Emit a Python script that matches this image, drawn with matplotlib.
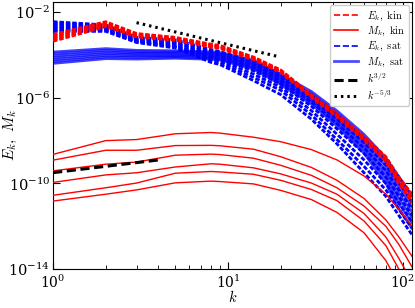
import numpy as np
import matplotlib
matplotlib.use("Agg")
import matplotlib.pyplot as plt
from matplotlib.lines import Line2D
from matplotlib.ticker import NullLocator

plt.rcParams['mathtext.fontset'] = 'cm'
plt.rcParams['font.family'] = ['DejaVu Serif']

# wavenumbers at which values were read
k_vals = [1, 2, 3, 5, 8, 9, 14, 20, 30, 42, 60, 80, 95, 113]

# log10 of E_k (kinetic runs), red dashed
E_kin_log = [
    [-3.05, -2.45, -3.00, -3.18, -3.50, -3.56, -4.10, -4.70, -5.85, -6.75, -7.80, -8.75, -9.70, -10.50],
    [-3.13, -2.50, -3.04, -3.22, -3.54, -3.60, -4.13, -4.73, -5.88, -6.78, -7.84, -8.80, -9.78, -10.60],
    [-3.20, -2.55, -3.07, -3.25, -3.57, -3.63, -4.16, -4.76, -5.91, -6.81, -7.88, -8.86, -9.85, -10.70],
    [-3.28, -2.61, -3.11, -3.28, -3.60, -3.66, -4.19, -4.79, -5.94, -6.85, -7.92, -8.92, -9.93, -10.80],
    [-3.36, -2.68, -3.16, -3.32, -3.64, -3.70, -4.22, -4.82, -5.98, -6.89, -7.97, -8.98, -10.00, -10.90],
]

# log10 of M_k (kinetic runs), red solid
M_kin_log = [
    [-8.64, -8.00, -7.95, -7.68, -7.62, -7.65, -7.84, -8.05, -8.42, -8.90, -9.65, -10.50, -11.20, -12.00],
    [-8.91, -8.45, -8.45, -8.23, -8.22, -8.24, -8.40, -8.75, -9.25, -9.85, -10.70, -11.70, -12.50, -13.40],
    [-9.41, -9.10, -9.00, -8.68, -8.63, -8.65, -8.82, -9.15, -9.62, -10.20, -11.05, -12.00, -12.85, -13.90],
    [-9.95, -9.60, -9.50, -9.23, -9.08, -9.10, -9.27, -9.55, -9.98, -10.50, -11.40, -12.50, -13.50, -14.60],
    [-10.55, -10.20, -9.98, -9.52, -9.44, -9.46, -9.57, -9.85, -10.28, -10.80, -11.75, -12.90, -14.00, -15.20],
    [-10.82, -10.50, -10.30, -9.97, -9.89, -9.91, -10.02, -10.32, -10.75, -11.35, -12.30, -13.60, -14.70, -15.90],
]

# log10 of E_k (saturated runs), blue dashed
E_sat_log = [
    [-2.45, -2.60, -3.18, -3.30, -3.75, -3.85, -4.30, -4.90, -5.90, -6.80, -7.90, -8.90, -9.70, -10.60],
    [-2.52, -2.65, -3.22, -3.38, -3.85, -3.95, -4.45, -5.05, -6.05, -7.00, -8.10, -9.15, -10.00, -10.90],
    [-2.60, -2.70, -3.26, -3.45, -3.95, -4.05, -4.60, -5.20, -6.20, -7.20, -8.35, -9.40, -10.30, -11.20],
    [-2.68, -2.75, -3.30, -3.52, -4.05, -4.15, -4.75, -5.35, -6.40, -7.45, -8.60, -9.70, -10.60, -11.50],
    [-2.75, -2.80, -3.34, -3.58, -4.15, -4.25, -4.90, -5.50, -6.60, -7.70, -8.90, -10.00, -10.90, -11.80],
    [-2.83, -2.85, -3.38, -3.63, -4.25, -4.35, -5.05, -5.65, -6.80, -7.95, -9.20, -10.30, -11.20, -12.10],
    [-2.90, -2.90, -3.42, -3.68, -4.35, -4.45, -5.20, -5.85, -7.00, -8.15, -9.50, -10.60, -11.50, -12.40],
]

# log10 of M_k (saturated runs), blue solid
M_sat_log = [
    [-3.86, -3.70, -3.78, -3.80, -3.85, -3.88, -4.25, -4.90, -5.70, -6.60, -7.70, -8.80, -9.70, -10.60],
    [-3.95, -3.78, -3.85, -3.86, -3.91, -3.94, -4.32, -4.98, -5.80, -6.72, -7.85, -9.00, -9.95, -10.85],
    [-4.04, -3.86, -3.92, -3.92, -3.97, -4.00, -4.39, -5.06, -5.90, -6.84, -8.00, -9.20, -10.20, -11.10],
    [-4.13, -3.94, -3.98, -3.98, -4.03, -4.06, -4.46, -5.14, -6.00, -6.96, -8.15, -9.40, -10.45, -11.35],
    [-4.22, -4.02, -4.05, -4.04, -4.09, -4.12, -4.53, -5.22, -6.10, -7.08, -8.30, -9.60, -10.70, -11.60],
    [-4.31, -4.10, -4.12, -4.10, -4.15, -4.18, -4.60, -5.30, -6.20, -7.20, -8.45, -9.80, -10.95, -11.85],
    [-4.40, -4.18, -4.20, -4.16, -4.21, -4.24, -4.67, -5.38, -6.30, -7.32, -8.60, -10.00, -11.20, -12.10],
]

# reference power-law guide lines (endpoints)
ref32_k = [1, 4]
ref32_val = [3.2e-10, 1.25e-9]
ref53_k = [3, 19]
ref53_val = [3.2e-3, 8.7e-5]

fig = plt.figure(figsize=(4.15, 3.08), dpi=100)
ax = fig.add_axes([0.128, 0.126, 0.865, 0.868])

k = np.array(k_vals, dtype=float)
dash_plot = (0, (1.6, 0.7))

for row in M_sat_log:
    ax.plot(k, 10.0 ** np.array(row), color='b', lw=1.8, alpha=0.75, zorder=2)
for row in E_sat_log:
    ax.plot(k, 10.0 ** np.array(row), color='b', lw=2.0, ls=dash_plot, zorder=3)
for row in M_kin_log:
    ax.plot(k, 10.0 ** np.array(row), color='r', lw=1.0, zorder=4)
for row in E_kin_log:
    ax.plot(k, 10.0 ** np.array(row), color='r', lw=2.0, ls=dash_plot, zorder=5)

ax.plot(ref32_k, ref32_val, color='k', lw=2.2, ls=(0, (3, 1.5)), zorder=6)
ax.plot(ref53_k, ref53_val, color='k', lw=2.2, ls=(0, (0.8, 1.3)), zorder=6)

ax.set_xscale('log')
ax.set_yscale('log')
ax.set_xlim(1, 113)
ax.set_ylim(1e-14, 3e-2)
ax.set_xticks([1, 10, 100])
ax.set_yticks([1e-14, 1e-10, 1e-6, 1e-2])
ax.yaxis.set_minor_locator(NullLocator())
ax.tick_params(which='both', direction='in', top=True, right=True, labelsize=10.5)
ax.tick_params(which='major', length=5, pad=2)
ax.tick_params(which='minor', length=3)
ax.tick_params(axis='x', which='major', pad=3, labelsize=10)

ax.set_xlabel(r'$k$', fontsize=10.5)
ax.xaxis.set_label_coords(0.5, -0.075)
ax.set_ylabel(r'$E_k,\ M_k$', fontsize=11)
ax.yaxis.set_label_coords(-0.095, 0.5)

handles = [
    Line2D([], [], color='r', lw=1.2, ls='--'),
    Line2D([], [], color='r', lw=1.2),
    Line2D([], [], color='b', lw=1.2, ls='--'),
    Line2D([], [], color='b', lw=2.0, alpha=0.7),
    Line2D([], [], color='k', lw=2.2, ls=(0, (3, 1.5))),
    Line2D([], [], color='k', lw=2.2, ls=(0, (0.8, 1.3))),
]
labels = [r'$E_k,\ \mathrm{kin}$', r'$M_k,\ \mathrm{kin}$', r'$E_k,\ \mathrm{sat}$',
          r'$M_k,\ \mathrm{sat}$', r'$k^{3/2}$', r'$k^{-5/3}$']
ax.legend(handles, labels, loc='upper right', fontsize=7.5, handlelength=2.3,
          labelspacing=0.2, borderaxespad=0.3, framealpha=1)

fig.savefig('out.png', dpi=100)
